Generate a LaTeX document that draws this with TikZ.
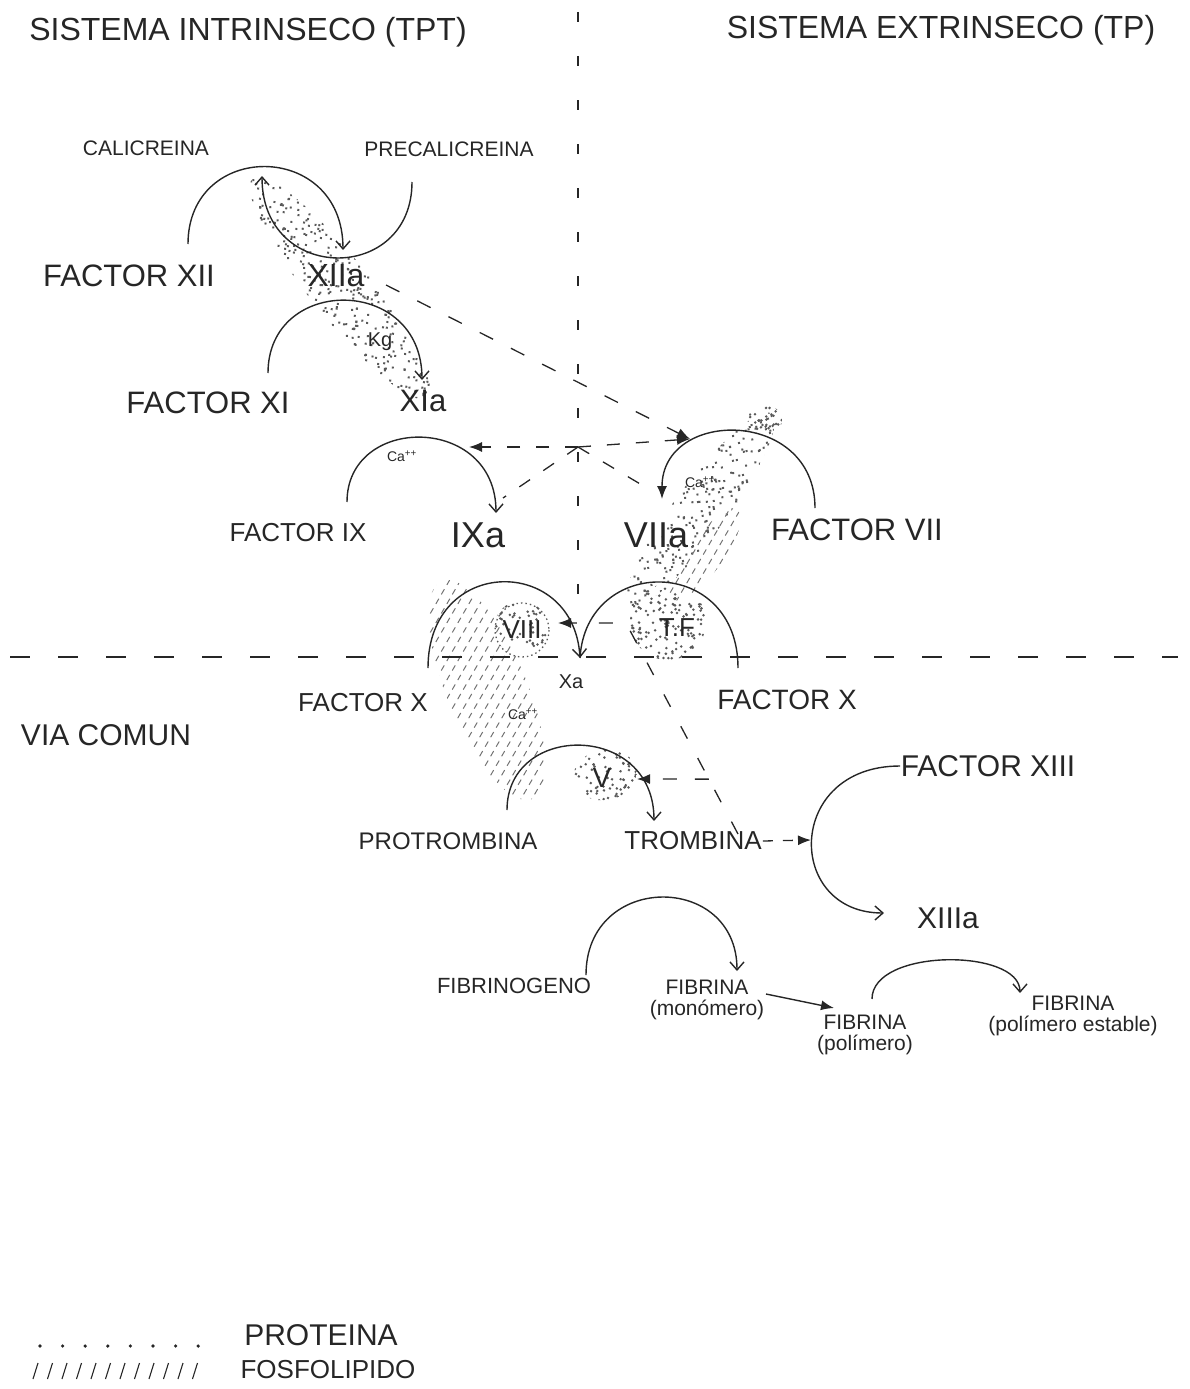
\documentclass[tikz,border=0pt]{standalone}
\usepackage{fontspec}
\setmainfont{Liberation Sans}
\usepackage{tikz}
\usetikzlibrary{calc,arrows.meta}
\colorlet{inkA}{black!85}
\colorlet{dotA}{black!65}
\colorlet{hatchA}{black!55}

\tikzset{
  lab/.style={text=inkA, inner sep=1pt},
  fs/.style={font=\fontsize{#1}{#1}\selectfont},
  react/.style={draw=inkA, line width=1.4pt},
  tipO/.style={-{Straight Barb[length=8pt,width=14pt]}},
  tipF/.style={-{Latex[length=13pt,width=10pt]}},
  link/.style={draw=inkA, line width=1.3pt, dash pattern=on 15pt off 20pt},
  divide/.style={draw=inkA, line width=2.6pt, dash pattern=on 20pt off 28pt},
  hatchline/.style={draw=hatchA, line width=1pt, dash pattern=on 6pt off 5pt},
}

% random dots in a tilted ellipse: x, y, angle, a, b, count
\newcommand{\stipple}[6]{%
  \begin{scope}[shift={(#1,#2)}, rotate=#3]
    \clip (0,0) ellipse [x radius=#4, y radius=#5];
    \foreach \i in {1,...,#6}
      \fill[dotA] ({#4*rand},{#5*rand}) circle (1.4);
  \end{scope}}

% broken slashes in a tilted ellipse: x, y, angle, a, b
\newcommand{\hatchband}[5]{%
  \begin{scope}
    \clip[shift={(#1,#2)}, rotate=#3] (0,0) ellipse [x radius=#4, y radius=#5];
    \foreach \k in {-200,-189,...,200}
      \draw[hatchline] ({#1+\k-110},{#2+190}) -- ({#1+\k+110},{#2-190});
  \end{scope}}

\begin{document}
\begin{tikzpicture}[x=1pt,y=-1pt]
  \useasboundingbox (0,0) rectangle (1189,1389);
  \pgfmathsetseed{11}

  % Protein (dots) and phospholipid (slashes) zones
  \stipple{340}{288}{-51.5}{140}{30}{330}
  \stipple{700}{510}{53.3}{120}{26}{260}
  \stipple{765}{420}{0}{17}{15}{30}
  \stipple{668}{622}{0}{38}{38}{140}
  \stipple{521}{628}{0}{27}{27}{60}
  \stipple{605}{775}{10}{32}{25}{80}
  \hatchband{487}{690}{-67.5}{118}{40}
  \hatchband{705}{555}{53.3}{55}{18}

  % Separators
  \coordinate (vtop) at (578,12);
  \coordinate (vbot) at (578,600);
  \coordinate (hl) at (10,657);
  \coordinate (hr) at (1178,657);
  \draw[link, line width=2pt, dash pattern=on 10pt off 34pt] (vtop) -- (vbot);
  \draw[divide] (hl) -- (hr);

  % Titles
  \node[lab, fs=32] (tIn) at (248,32) {SISTEMA INTRINSECO (TPT)};
  \node[lab, fs=32] (tEx) at (941,30) {SISTEMA EXTRINSECO (TP)};
  \node[lab, fs=30] (via) at (106,735) {VIA COMUN};

  % Intrinsic pathway labels
  \node[lab, fs=21] (cal) at (146,148) {CALICREINA};
  \node[lab, fs=21] (precal) at (449,149) {PRECALICREINA};
  \node[lab, fs=31] (f12) at (129,276) {FACTOR XII};
  \node[lab, fs=32] (f12a) at (336,276) {XIIa};
  \node[lab, fs=20] (kg) at (380,342) {Kg};
  \node[lab, fs=31] (f11) at (208,403) {FACTOR XI};
  \node[lab, fs=31] (f11a) at (423,401) {XIa};
  \node[lab, fs=14] (ca9) at (402,456) {Ca\textsuperscript{++}};
  \node[lab, fs=26] (f9) at (298,533) {FACTOR IX};
  \node[lab, fs=36] (f9a) at (478,535) {IXa};

  % Extrinsic pathway labels
  \node[lab, fs=36] (f7a) at (656,535) {VIIa};
  \node[lab, fs=31] (f7) at (857,530) {FACTOR VII};
  \node[lab, fs=14] (ca7) at (700,482) {Ca\textsuperscript{++}};

  % Tenase complexes
  \node[lab, fs=26] (f8) at (522,630) {VIII};
  \draw[dotA, line width=1.3pt, dash pattern=on 1.5pt off 3pt] (f8) circle (27);
  \node[lab, fs=26] (tf) at (677,628) {T.F};
  \node[lab, fs=20] (f10a) at (571,682) {Xa};
  \node[lab, fs=26] (f10l) at (363,703) {FACTOR X};
  \node[lab, fs=28] (f10r) at (787,700) {FACTOR X};
  \node[lab, fs=14] (ca10) at (523,714) {Ca\textsuperscript{++}};

  % Common pathway labels
  \node[lab, fs=28] (f5) at (602,778) {V};
  \node[lab, fs=24] (prot) at (448,841) {PROTROMBINA};
  \node[lab, fs=26] (trom) at (693,841) {TROMBINA};
  \node[lab, fs=30] (f13) at (988,766) {FACTOR XIII};
  \node[lab, fs=30] (f13a) at (948,918) {XIIIa};
  \node[lab, fs=22] (fbg) at (514,986) {FIBRINOGENO};
  \node[lab, fs=21, align=center] (fbm) at (707,1000) {FIBRINA\\(monómero)};
  \node[lab, fs=21, align=center] (fbp) at (865,1035) {FIBRINA\\(polímero)};
  \node[lab, fs=21, align=center] (fbe) at (1073,1016) {FIBRINA\\(polímero estable)};

  % Arc end points
  \coordinate (a12s) at (188,244);  \coordinate (a12e) at (343,250);
  \coordinate (apks) at (412,182);  \coordinate (apke) at (262,176);
  \coordinate (a11s) at (268,373);  \coordinate (a11e) at (422,380);
  \coordinate (a9s) at (347,502);   \coordinate (a9e) at (496,513);
  \coordinate (a7s) at (815,508);   \coordinate (a7e) at (662,499);
  \coordinate (a10ls) at (428,668); \coordinate (xa) at (580,658);
  \coordinate (a10rs) at (738,668);
  \coordinate (a5s) at (507,810);   \coordinate (a5e) at (654,821);
  \coordinate (a13s) at (900,766);  \coordinate (a13e) at (884,913);
  \coordinate (afs) at (586,975);   \coordinate (afe) at (737,971);
  \coordinate (aps) at (872,999);   \coordinate (ape) at (1020,993);

  % Activation arcs
  \draw[react, tipO] (a12s) .. controls +(0,-104) and +(0,-110) .. (a12e);
  \draw[react, tipO] (apks) .. controls +(0,102) and +(0,108) .. (apke);
  \draw[react, tipO] (a11s) .. controls +(0,-98) and +(0,-105) .. (a11e);
  \draw[react, tipO] (a9s) .. controls +(0,-88) and +(0,-99) .. (a9e);
  \draw[react, tipF] (a7s) .. controls +(0,-100) and +(0,-91) .. (a7e);
  \draw[react, tipO] (a10ls) .. controls +(0,-113) and +(-6,-103) .. (xa);
  \draw[react] (a10rs) .. controls +(0,-113) and +(6,-103) .. (xa);
  \draw[react, tipO] (a5s) .. controls +(0,-88) and +(0,-99) .. (a5e);
  \draw[react, tipO] (a13s) .. controls +(-115,0) and +(-99,0) .. (a13e);
  \draw[react, tipO] (afs) .. controls +(0,-103) and +(0,-99) .. (afe);
  \draw[react, tipO] (aps) .. controls +(0,-51) and +(0,-45) .. (ape);

  % Dashed activations
  \coordinate (d12) at (386,285);
  \coordinate (d7in) at (690,439);
  \coordinate (cx) at (578,447);
  \coordinate (d9in) at (469,447);
  \coordinate (d9a) at (503,498);
  \coordinate (d7a) at (652,491);
  \draw[link, tipF] (d12) -- (d7in);
  \draw[link, dash pattern=on 13pt off 16pt, tipF] (cx) -- (d9in);
  \draw[link, dash pattern=on 13pt off 16pt] (cx) -- (d9a);
  \draw[link, dash pattern=on 13pt off 16pt, tipF] (cx) -- (d7in);
  \draw[link, dash pattern=on 13pt off 16pt] (cx) -- (d7a);

  % Thrombin feedback
  \coordinate (dtr) at (738,834);
  \coordinate (dk) at (626,623);
  \coordinate (d8in) at (558,623);
  \coordinate (d5in) at (637,779);
  \coordinate (dbr) at ($(dtr)!0.26!(dk)$);
  \coordinate (d13in) at (811,840);
  \draw[link, dash pattern=on 14pt off 22pt, tipF] (dtr) -- (dk) -- (d8in);
  \draw[link, dash pattern=on 14pt off 18pt, tipF] (dbr) -- (d5in);
  \draw[link, dash pattern=on 10pt off 10pt, tipF] (trom.east) -- (d13in);

  % Fibrin polymerisation
  \coordinate (fm1) at (766,994);
  \coordinate (fp1) at (834,1008);
  \draw[react, tipF] (fm1) -- (fp1);

  % Legend
  \foreach \i in {0,...,7}
    \fill[inkA] ({40+\i*22.6},1346) circle (1.8);
  \foreach \i in {0,...,11}
    \draw[inkA, line width=1.1pt] ({33+\i*14.5},1379) -- ++(5,-16);
  \node[lab, fs=30] (lgP) at (321,1335) {PROTEINA};
  \node[lab, fs=26] (lgF) at (328,1370) {FOSFOLIPIDO};
\end{tikzpicture}
\end{document}
